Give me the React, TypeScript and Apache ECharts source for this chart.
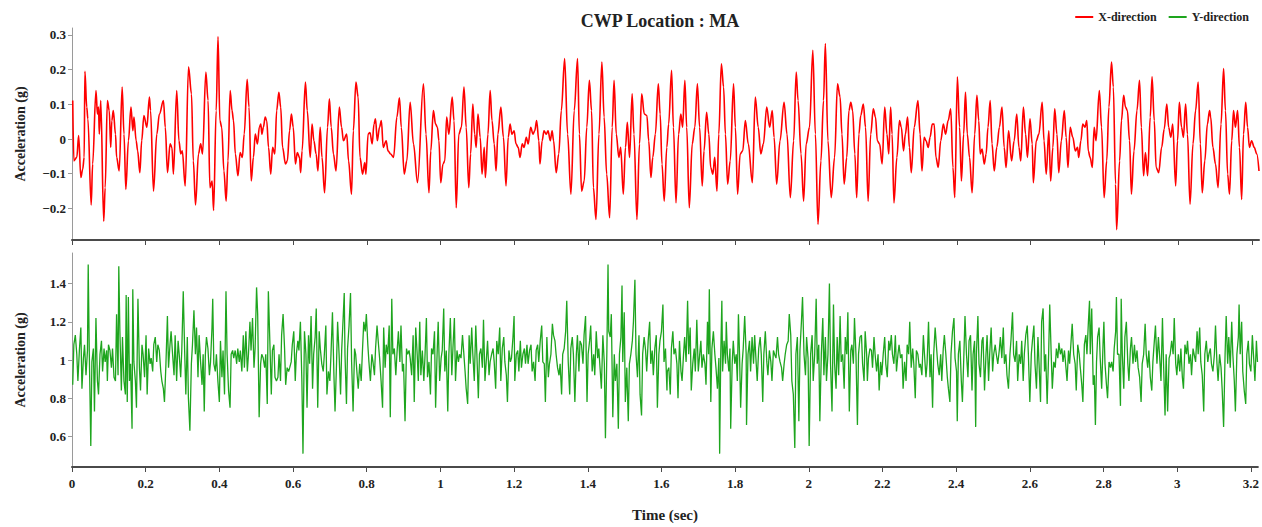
import { useEffect, useRef } from "react";
import * as echarts from "echarts";

const TITLE = "CWP Location : MA";
const SERIES_NAMES = ["X-direction", "Y-direction"];
const TIME_TICKS = [0, 0.2, 0.4, 0.6, 0.8, 1, 1.2, 1.4, 1.6, 1.8, 2, 2.2, 2.4, 2.6, 2.8, 3, 3.2];
const X_ACC_TICKS = [-0.2, -0.1, 0, 0.1, 0.2, 0.3];
const Y_ACC_TICKS = [0.6, 0.8, 1, 1.2, 1.4];

// [time (sec), acceleration (g)]
const X_DIRECTION: [number, number][] = [
  [0.002,0.111],[0.005,-0.063],[0.013,-0.053],[0.018,0.010],[0.024,-0.111],[0.029,-0.087],[0.033,-0.053],[0.035,0.195],[0.040,0.092],[0.043,0.058],[0.052,-0.190],[0.056,-0.072],[0.065,0.140],[0.069,0.072],[0.072,0.092],[0.074,0.014],[0.078,0.111],[0.086,-0.237],[0.090,-0.140],[0.096,0.111],[0.101,0.082],[0.105,-0.024],[0.108,0.053],[0.112,0.082],[0.118,0.014],[0.121,-0.053],[0.128,-0.092],[0.136,0.150],[0.141,0.014],[0.146,-0.145],[0.153,-0.005],[0.160,0.092],[0.165,0.024],[0.168,0.063],[0.174,-0.005],[0.178,-0.034],[0.184,-0.097],[0.189,-0.005],[0.195,0.068],[0.203,0.034],[0.210,0.121],[0.213,0.082],[0.221,-0.150],[0.230,0.014],[0.237,0.072],[0.248,0.111],[0.253,0.034],[0.259,-0.097],[0.266,-0.014],[0.271,-0.024],[0.275,-0.101],[0.284,0.140],[0.290,-0.005],[0.295,-0.043],[0.299,-0.034],[0.307,-0.135],[0.316,0.208],[0.324,0.130],[0.329,-0.063],[0.335,-0.190],[0.343,-0.043],[0.349,-0.014],[0.354,-0.043],[0.363,0.193],[0.369,0.111],[0.374,-0.140],[0.380,-0.121],[0.384,-0.206],[0.391,0.082],[0.396,0.295],[0.401,0.053],[0.406,0.034],[0.412,-0.092],[0.418,-0.179],[0.423,-0.063],[0.429,0.140],[0.434,0.082],[0.438,0.053],[0.443,-0.043],[0.450,-0.106],[0.456,-0.039],[0.462,-0.053],[0.467,0.014],[0.475,0.172],[0.480,0.092],[0.486,-0.121],[0.492,-0.053],[0.497,0.014],[0.503,-0.014],[0.508,0.034],[0.512,0.043],[0.515,0.014],[0.519,0.034],[0.524,0.063],[0.528,0.053],[0.533,-0.024],[0.539,-0.101],[0.544,-0.024],[0.550,-0.043],[0.555,0.082],[0.561,0.135],[0.566,0.092],[0.571,-0.024],[0.579,-0.072],[0.584,-0.063],[0.590,0.024],[0.595,0.072],[0.600,0.034],[0.606,-0.072],[0.611,-0.039],[0.617,-0.053],[0.620,-0.097],[0.624,-0.034],[0.633,0.164],[0.638,0.082],[0.646,-0.053],[0.651,0.043],[0.656,-0.005],[0.662,-0.043],[0.667,-0.092],[0.673,0.034],[0.678,-0.053],[0.685,-0.155],[0.693,0.034],[0.698,0.116],[0.703,0.034],[0.709,-0.043],[0.716,-0.092],[0.725,0.092],[0.731,0.034],[0.736,-0.005],[0.745,0.014],[0.750,-0.063],[0.758,-0.159],[0.763,0.024],[0.770,0.164],[0.776,0.121],[0.781,-0.053],[0.788,-0.101],[0.794,-0.068],[0.797,-0.101],[0.803,0.014],[0.808,0.019],[0.814,-0.014],[0.819,0.043],[0.823,0.058],[0.828,-0.005],[0.834,0.034],[0.839,0.053],[0.844,-0.024],[0.852,-0.005],[0.857,-0.034],[0.864,-0.043],[0.872,-0.053],[0.881,0.063],[0.888,0.119],[0.893,0.034],[0.901,-0.101],[0.908,-0.063],[0.917,0.106],[0.926,-0.014],[0.937,-0.126],
  [0.953,0.159],[0.960,0.014],[0.968,-0.155],[0.973,-0.034],[0.980,0.082],[0.986,0.043],[0.991,0.034],[0.995,-0.005],[1.000,-0.126],[1.006,-0.072],[1.011,-0.063],[1.016,0.063],[1.022,0.014],[1.031,0.121],[1.036,0.053],[1.042,-0.198],[1.049,0.014],[1.056,0.034],[1.063,0.150],[1.069,0.034],[1.076,-0.140],[1.081,-0.043],[1.087,0.101],[1.092,0.014],[1.096,-0.024],[1.101,0.072],[1.107,0.005],[1.112,-0.101],[1.118,-0.024],[1.121,-0.111],[1.128,0.014],[1.134,0.140],[1.139,0.053],[1.145,-0.014],[1.150,-0.092],[1.155,0.014],[1.163,0.092],[1.170,0.005],[1.177,-0.135],[1.183,0.005],[1.188,0.043],[1.193,0.014],[1.199,0.024],[1.204,-0.014],[1.210,-0.024],[1.215,-0.053],[1.221,-0.014],[1.226,-0.024],[1.232,0.005],[1.237,-0.014],[1.244,0.034],[1.250,0.014],[1.255,0.024],[1.260,0.053],[1.266,-0.005],[1.269,-0.072],[1.275,-0.005],[1.280,0.024],[1.286,0.014],[1.291,0.024],[1.297,-0.005],[1.302,0.024],[1.306,-0.005],[1.313,-0.097],[1.320,-0.043],[1.327,0.082],[1.336,0.232],[1.344,0.014],[1.353,-0.159],[1.362,0.082],[1.371,0.232],[1.376,0.014],[1.382,-0.150],[1.389,-0.121],[1.396,0.034],[1.403,0.169],[1.409,0.082],[1.414,-0.140],[1.421,-0.232],[1.429,0.014],[1.437,0.222],[1.443,0.063],[1.450,-0.101],[1.458,-0.227],[1.465,0.034],[1.470,0.169],[1.476,0.014],[1.483,-0.053],[1.488,-0.024],[1.495,-0.159],[1.501,-0.024],[1.506,0.048],[1.512,-0.053],[1.519,0.130],[1.524,0.014],[1.532,-0.232],[1.539,-0.014],[1.545,0.130],[1.552,0.072],[1.559,0.068],[1.564,-0.005],[1.570,-0.111],[1.575,-0.053],[1.582,0.014],[1.590,0.159],[1.595,0.072],[1.600,-0.072],[1.606,-0.179],[1.613,-0.024],[1.618,0.043],[1.626,0.198],[1.631,0.034],[1.638,-0.184],[1.645,0.014],[1.651,0.072],[1.656,0.034],[1.662,0.169],[1.667,0.034],[1.674,-0.198],[1.682,-0.014],[1.689,0.034],[1.696,0.159],[1.702,0.034],[1.709,-0.135],[1.714,-0.034],[1.721,0.077],[1.727,0.014],[1.732,-0.082],[1.738,-0.101],[1.743,-0.053],[1.749,-0.150],[1.754,0.014],[1.761,0.217],[1.767,0.150],[1.772,0.014],[1.778,-0.130],[1.785,-0.063],[1.794,0.159],[1.799,0.034],[1.805,-0.159],[1.812,-0.043],[1.819,-0.034],[1.826,0.053],[1.834,-0.014],[1.845,-0.126],[1.853,0.121],[1.861,0.034],[1.868,-0.043],[1.875,-0.014],[1.884,0.092],[1.892,0.034],[1.899,0.082],[1.904,0.005],[1.911,-0.130],[1.920,-0.005],[1.931,0.106],[1.939,0.014],[1.948,-0.169],[1.957,-0.005],[1.964,0.193],[1.969,0.111],[1.977,-0.043],[1.984,-0.179],[1.991,-0.014],[2.000,0.034],[2.009,0.256],[2.016,0.014],[2.023,-0.246],[2.031,-0.063],[2.038,0.111],[2.043,0.275],[2.050,-0.005],[2.059,-0.169],[2.068,-0.053],[2.076,0.159],
  [2.083,0.121],[2.088,0.014],[2.094,-0.130],[2.101,-0.053],[2.107,0.082],[2.112,0.106],[2.117,0.082],[2.123,-0.043],[2.128,-0.169],[2.134,0.014],[2.139,0.068],[2.146,0.101],[2.152,0.034],[2.159,-0.179],[2.166,0.014],[2.173,0.087],[2.179,0.063],[2.184,-0.005],[2.190,-0.014],[2.197,-0.072],[2.204,0.092],[2.210,0.014],[2.215,-0.043],[2.220,0.092],[2.224,0.014],[2.229,-0.184],[2.237,-0.053],[2.244,0.053],[2.249,0.034],[2.255,-0.034],[2.260,0.014],[2.266,0.063],[2.271,-0.024],[2.276,-0.097],[2.284,0.034],[2.294,0.111],[2.300,0.014],[2.305,-0.092],[2.311,0.005],[2.316,-0.005],[2.322,-0.024],[2.327,0.005],[2.333,0.043],[2.338,0.043],[2.343,-0.053],[2.349,-0.082],[2.356,-0.005],[2.363,0.043],[2.369,0.014],[2.376,0.053],[2.383,0.087],[2.389,-0.082],[2.394,-0.169],[2.401,0.179],[2.407,0.034],[2.412,-0.121],[2.418,0.014],[2.423,0.135],[2.428,0.014],[2.434,-0.053],[2.441,-0.155],[2.448,0.014],[2.454,0.126],[2.459,0.053],[2.463,-0.043],[2.468,-0.029],[2.474,-0.072],[2.479,-0.043],[2.484,0.034],[2.490,0.111],[2.495,-0.014],[2.501,-0.092],[2.508,-0.024],[2.515,0.034],[2.522,0.092],[2.528,-0.024],[2.533,-0.082],[2.540,0.024],[2.548,-0.063],[2.555,-0.005],[2.562,0.072],[2.568,-0.024],[2.573,-0.063],[2.580,0.092],[2.586,0.014],[2.591,-0.053],[2.598,0.058],[2.604,-0.014],[2.607,-0.126],[2.615,-0.005],[2.622,0.014],[2.631,0.106],[2.636,-0.005],[2.642,-0.101],[2.649,0.024],[2.654,-0.121],[2.660,-0.024],[2.665,0.087],[2.671,0.014],[2.676,-0.097],[2.683,-0.005],[2.691,0.082],[2.696,0.005],[2.701,-0.082],[2.707,0.034],[2.714,0.005],[2.721,-0.034],[2.727,-0.024],[2.730,-0.053],[2.736,-0.005],[2.741,0.043],[2.747,0.034],[2.752,0.053],[2.756,-0.034],[2.761,-0.053],[2.767,-0.082],[2.772,0.034],[2.777,-0.005],[2.786,0.140],[2.792,0.034],[2.799,-0.169],[2.806,-0.063],[2.812,0.092],[2.819,0.222],[2.824,0.150],[2.830,-0.130],[2.833,-0.261],[2.841,-0.063],[2.846,0.053],[2.852,0.126],[2.857,0.092],[2.862,0.082],[2.868,-0.005],[2.873,-0.159],[2.880,-0.034],[2.888,0.082],[2.895,0.169],[2.900,0.034],[2.906,-0.106],[2.911,-0.039],[2.917,-0.106],[2.924,0.063],[2.929,0.179],[2.935,0.053],[2.940,-0.082],[2.947,-0.097],[2.955,-0.024],[2.962,0.029],[2.969,0.101],[2.974,0.034],[2.980,0.005],[2.985,0.043],[2.993,-0.135],[2.998,-0.005],[3.003,0.106],[3.009,0.034],[3.014,0.005],[3.020,0.101],[3.025,0.014],[3.032,-0.188],[3.040,-0.014],[3.047,0.082],[3.054,0.164],[3.060,-0.014],[3.065,-0.155],[3.072,-0.063],[3.079,0.043],[3.085,0.082],[3.088,0.063],[3.094,-0.024],[3.101,-0.072],[3.108,-0.140],[3.116,0.043],[3.123,0.203],[3.128,0.082],[3.134,-0.101],[3.139,-0.159],[3.145,-0.005],[3.150,0.082],[3.155,0.034],[3.161,0.082],[3.166,-0.024],[3.172,-0.174],[3.177,0.014],[3.183,0.106],[3.188,0.034],[3.193,-0.024],[3.199,-0.005],[3.206,-0.024],[3.213,-0.043],[3.219,-0.092],
];

// [time (sec), acceleration (g)]
const Y_DIRECTION: [number, number][] = [
  [0.002,0.87],[0.005,1.08],[0.009,1.13],[0.013,1.03],[0.016,0.89],[0.020,1.05],[0.024,1.17],[0.027,0.85],[0.031,1.01],[0.034,1.08],[0.038,0.92],[0.042,1.05],[0.044,1.50],[0.047,1.03],[0.051,0.55],[0.054,0.99],[0.058,1.06],[0.061,0.73],[0.065,1.22],[0.069,0.89],[0.072,0.82],[0.076,1.03],[0.080,1.10],[0.083,0.94],[0.087,1.06],[0.090,0.99],[0.094,1.05],[0.096,0.89],[0.099,1.08],[0.103,1.05],[0.107,0.96],[0.110,1.06],[0.114,0.91],[0.118,0.89],[0.121,1.24],[0.125,0.92],[0.127,1.49],[0.130,1.15],[0.134,0.84],[0.137,1.12],[0.141,0.89],[0.145,0.82],[0.147,1.34],[0.150,0.78],[0.153,1.33],[0.156,0.89],[0.159,0.98],[0.163,0.64],[0.165,1.37],[0.168,0.99],[0.172,0.89],[0.175,0.75],[0.179,1.32],[0.183,0.96],[0.186,0.84],[0.190,1.08],[0.193,1.03],[0.197,0.91],[0.201,1.13],[0.204,0.82],[0.208,1.06],[0.212,0.98],[0.215,1.01],[0.219,0.94],[0.222,1.08],[0.226,1.12],[0.230,0.99],[0.233,1.08],[0.237,1.05],[0.241,0.94],[0.244,0.89],[0.248,0.85],[0.251,0.78],[0.255,0.98],[0.259,1.23],[0.262,0.96],[0.266,1.08],[0.269,1.15],[0.273,1.03],[0.277,0.92],[0.280,1.13],[0.284,0.89],[0.288,1.10],[0.291,1.03],[0.295,0.91],[0.298,1.05],[0.302,1.36],[0.306,1.03],[0.309,0.82],[0.313,1.12],[0.316,0.80],[0.320,0.63],[0.324,0.98],[0.327,1.08],[0.331,1.26],[0.335,1.03],[0.338,1.17],[0.342,0.91],[0.345,1.13],[0.349,0.99],[0.353,0.87],[0.356,1.03],[0.359,0.73],[0.362,1.03],[0.365,1.12],[0.369,1.06],[0.373,0.92],[0.376,0.99],[0.380,1.17],[0.382,1.32],[0.385,0.98],[0.389,0.94],[0.392,1.03],[0.396,0.89],[0.400,0.78],[0.403,1.10],[0.407,0.91],[0.410,1.05],[0.414,0.82],[0.418,1.36],[0.421,1.03],[0.425,0.84],[0.429,0.75],[0.432,1.03],[0.436,1.05],[0.439,1.01],[0.443,1.05],[0.447,0.98],[0.450,1.06],[0.454,0.99],[0.457,1.05],[0.461,0.94],[0.465,1.13],[0.468,0.96],[0.472,1.15],[0.476,0.94],[0.479,1.03],[0.483,1.20],[0.486,1.05],[0.490,1.22],[0.494,0.96],[0.497,1.06],[0.501,1.38],[0.504,1.24],[0.508,0.70],[0.512,0.98],[0.515,1.03],[0.519,1.01],[0.523,0.96],[0.526,1.03],[0.530,0.77],
  [0.533,1.36],[0.537,1.10],[0.541,0.82],[0.544,1.05],[0.548,1.08],[0.551,0.91],[0.555,0.89],[0.559,0.91],[0.562,1.03],[0.566,0.89],[0.569,1.13],[0.573,1.24],[0.577,1.06],[0.580,0.87],[0.584,0.96],[0.588,0.94],[0.591,0.96],[0.595,0.99],[0.598,1.08],[0.602,1.15],[0.606,0.89],[0.609,1.03],[0.613,1.10],[0.616,1.05],[0.620,1.20],[0.624,0.89],[0.627,0.51],[0.631,1.15],[0.635,1.03],[0.638,0.75],[0.642,1.13],[0.645,0.98],[0.649,1.23],[0.653,0.85],[0.656,1.03],[0.660,1.12],[0.663,1.27],[0.667,0.75],[0.671,1.15],[0.674,1.06],[0.678,0.98],[0.682,0.94],[0.685,1.03],[0.689,1.18],[0.692,0.82],[0.696,0.94],[0.700,0.89],[0.703,1.03],[0.707,1.25],[0.711,0.92],[0.714,0.73],[0.718,0.98],[0.721,1.20],[0.725,1.03],[0.729,0.82],[0.732,1.05],[0.736,1.22],[0.739,1.35],[0.741,1.03],[0.745,0.77],[0.748,1.06],[0.752,1.18],[0.756,1.35],[0.759,0.99],[0.763,0.73],[0.767,1.06],[0.770,1.03],[0.774,0.92],[0.777,0.85],[0.781,0.98],[0.785,0.89],[0.788,1.03],[0.792,1.20],[0.796,1.15],[0.799,1.24],[0.803,1.08],[0.806,0.99],[0.810,0.89],[0.814,1.03],[0.817,0.99],[0.821,0.92],[0.824,1.06],[0.828,1.18],[0.832,1.08],[0.835,1.01],[0.839,0.89],[0.843,0.75],[0.846,1.17],[0.850,0.96],[0.853,1.08],[0.857,1.03],[0.861,1.18],[0.864,0.70],[0.868,1.32],[0.871,1.03],[0.875,1.06],[0.879,0.92],[0.882,1.03],[0.886,1.15],[0.890,0.99],[0.893,1.18],[0.897,0.94],[0.900,0.98],[0.904,0.68],[0.908,1.06],[0.911,1.03],[0.915,1.05],[0.918,1.01],[0.922,0.92],[0.926,1.13],[0.929,0.78],[0.933,1.17],[0.937,1.03],[0.940,0.89],[0.944,1.20],[0.947,0.92],[0.951,1.05],[0.955,0.89],[0.958,1.01],[0.962,1.22],[0.965,0.91],[0.969,0.99],[0.973,0.82],[0.976,1.06],[0.980,1.03],[0.984,1.15],[0.987,0.75],[0.991,1.03],[0.994,1.20],[0.998,0.89],[1.002,1.01],[1.005,1.05],[1.009,1.27],[1.012,0.94],[1.016,1.05],[1.020,0.73],[1.023,1.03],[1.027,1.22],[1.031,0.92],[1.034,1.06],[1.038,1.22],[1.041,0.89],[1.045,1.05],[1.049,0.99],[1.052,1.03],[1.056,1.01],[1.060,1.13],[1.063,1.05],[1.067,0.94],[1.070,0.85],
  [1.074,0.77],[1.078,1.13],[1.081,0.98],[1.085,1.17],[1.088,1.03],[1.092,0.89],[1.096,1.18],[1.099,1.03],[1.103,0.80],[1.106,1.03],[1.110,1.06],[1.114,0.96],[1.117,1.21],[1.121,0.89],[1.125,1.01],[1.128,1.10],[1.132,0.92],[1.135,0.99],[1.139,1.03],[1.143,1.06],[1.146,0.99],[1.150,0.85],[1.153,1.10],[1.157,1.03],[1.161,1.17],[1.164,0.89],[1.168,1.06],[1.172,1.12],[1.175,0.99],[1.179,0.92],[1.182,0.78],[1.186,1.05],[1.190,0.99],[1.193,1.01],[1.197,1.12],[1.200,1.23],[1.202,0.89],[1.206,1.03],[1.210,1.05],[1.213,0.94],[1.217,1.10],[1.220,0.96],[1.224,1.03],[1.228,1.06],[1.231,0.98],[1.235,1.08],[1.238,0.98],[1.242,1.05],[1.246,1.08],[1.249,0.94],[1.253,0.99],[1.257,0.89],[1.260,1.05],[1.264,1.08],[1.267,0.99],[1.271,1.10],[1.275,1.18],[1.278,0.99],[1.282,0.98],[1.285,0.78],[1.289,1.12],[1.293,0.91],[1.296,0.98],[1.300,1.03],[1.304,1.19],[1.307,1.13],[1.311,1.10],[1.314,1.03],[1.318,0.96],[1.322,0.92],[1.325,0.98],[1.329,0.82],[1.332,1.03],[1.336,1.06],[1.340,1.15],[1.343,1.31],[1.347,0.99],[1.351,0.82],[1.354,1.06],[1.358,1.12],[1.361,1.03],[1.365,0.78],[1.369,1.03],[1.372,1.13],[1.376,0.94],[1.379,1.10],[1.383,1.08],[1.387,0.98],[1.390,1.13],[1.394,1.23],[1.398,0.78],[1.401,1.03],[1.405,1.10],[1.408,1.18],[1.412,0.94],[1.416,1.03],[1.419,0.92],[1.423,1.15],[1.427,1.01],[1.430,1.06],[1.434,0.94],[1.437,0.85],[1.441,1.13],[1.445,0.98],[1.448,0.59],[1.452,1.06],[1.455,1.50],[1.457,1.15],[1.461,1.12],[1.464,1.24],[1.468,0.70],[1.472,1.03],[1.475,0.89],[1.479,0.98],[1.483,0.64],[1.486,1.03],[1.490,1.12],[1.493,1.39],[1.495,0.99],[1.499,1.25],[1.502,0.78],[1.506,0.96],[1.510,0.68],[1.513,0.98],[1.517,1.03],[1.521,1.10],[1.524,1.20],[1.528,1.42],[1.531,1.03],[1.535,0.91],[1.539,1.13],[1.542,0.82],[1.546,0.71],[1.549,1.03],[1.553,1.12],[1.557,1.05],[1.560,0.94],[1.564,1.10],[1.568,1.20],[1.571,0.98],[1.575,1.05],[1.578,0.92],[1.582,1.06],[1.586,1.13],[1.589,0.75],[1.593,1.03],[1.596,1.10],[1.600,1.15],[1.604,1.29],[1.607,0.99],[1.611,1.06],[1.615,0.84],
  [1.616,0.94],[1.620,0.96],[1.624,0.82],[1.627,1.06],[1.631,1.15],[1.634,1.03],[1.638,1.06],[1.642,0.98],[1.645,0.80],[1.649,1.10],[1.653,0.94],[1.656,0.89],[1.660,1.03],[1.663,1.12],[1.667,0.99],[1.671,1.31],[1.674,1.03],[1.678,1.17],[1.681,0.84],[1.685,0.98],[1.689,1.06],[1.692,0.94],[1.696,1.21],[1.700,0.94],[1.703,1.01],[1.707,1.10],[1.710,0.96],[1.714,1.03],[1.718,0.98],[1.721,0.87],[1.725,1.20],[1.728,1.03],[1.730,1.37],[1.734,0.78],[1.737,1.06],[1.741,1.15],[1.745,1.03],[1.748,0.96],[1.752,0.85],[1.756,1.01],[1.758,0.51],[1.761,1.03],[1.764,1.31],[1.766,0.94],[1.770,1.10],[1.774,0.98],[1.776,1.20],[1.779,1.03],[1.783,0.94],[1.786,1.06],[1.788,0.64],[1.792,0.98],[1.795,1.10],[1.799,0.98],[1.803,1.03],[1.806,0.89],[1.809,1.24],[1.812,1.03],[1.815,0.75],[1.819,0.98],[1.822,1.06],[1.826,1.23],[1.830,1.03],[1.831,0.66],[1.835,1.03],[1.839,1.10],[1.842,0.94],[1.846,1.12],[1.850,0.98],[1.853,1.13],[1.857,0.99],[1.860,0.89],[1.864,1.06],[1.868,1.12],[1.871,1.03],[1.875,0.78],[1.878,1.03],[1.882,1.15],[1.886,0.99],[1.889,0.92],[1.893,1.05],[1.897,0.99],[1.900,0.89],[1.904,1.05],[1.907,1.03],[1.911,1.01],[1.915,1.12],[1.918,1.03],[1.922,0.99],[1.926,0.96],[1.929,0.89],[1.933,0.98],[1.936,1.03],[1.940,1.08],[1.944,1.10],[1.947,1.24],[1.951,1.13],[1.954,0.89],[1.958,0.82],[1.962,0.54],[1.965,1.03],[1.969,1.12],[1.973,0.68],[1.976,1.05],[1.980,1.20],[1.983,1.33],[1.987,1.03],[1.991,0.92],[1.994,1.12],[1.998,1.01],[2.001,0.55],[2.005,1.03],[2.009,1.13],[2.012,0.89],[2.016,1.03],[2.020,1.32],[2.023,0.98],[2.027,1.08],[2.030,0.68],[2.034,1.03],[2.038,1.22],[2.041,0.92],[2.045,1.12],[2.048,0.89],[2.052,1.03],[2.056,1.40],[2.059,0.98],[2.063,0.73],[2.067,1.29],[2.070,0.98],[2.074,0.85],[2.077,1.12],[2.081,0.92],[2.085,1.23],[2.088,0.99],[2.092,1.03],[2.096,0.85],[2.099,1.12],[2.103,1.03],[2.106,1.25],[2.110,0.73],[2.114,1.05],[2.117,1.08],[2.121,0.98],[2.124,1.22],[2.128,1.03],[2.132,0.66],[2.135,1.03],[2.139,1.12],[2.143,1.13],[2.146,0.98],[2.150,0.89],[2.153,1.15],[2.157,1.03],
  [2.159,0.89],[2.162,1.01],[2.166,1.06],[2.170,1.05],[2.173,0.96],[2.177,1.12],[2.180,1.03],[2.184,0.94],[2.188,1.03],[2.191,0.84],[2.195,0.99],[2.198,0.92],[2.202,1.03],[2.206,1.12],[2.209,0.98],[2.213,0.91],[2.217,1.10],[2.220,1.05],[2.224,1.13],[2.227,1.03],[2.231,0.98],[2.235,1.13],[2.238,0.94],[2.242,1.03],[2.245,1.08],[2.249,1.01],[2.253,1.03],[2.256,0.85],[2.260,0.99],[2.264,0.89],[2.267,1.08],[2.271,1.03],[2.274,1.20],[2.278,0.96],[2.282,1.06],[2.285,0.98],[2.289,0.80],[2.292,1.05],[2.296,1.03],[2.300,0.96],[2.303,0.98],[2.307,0.92],[2.311,1.13],[2.314,1.03],[2.318,0.91],[2.321,0.98],[2.325,1.20],[2.329,0.91],[2.332,1.03],[2.336,0.75],[2.339,1.03],[2.343,1.17],[2.347,1.06],[2.350,0.98],[2.354,0.92],[2.358,1.03],[2.361,0.89],[2.365,1.06],[2.368,1.13],[2.372,1.03],[2.376,0.91],[2.379,0.85],[2.383,0.78],[2.386,1.03],[2.390,1.15],[2.394,1.22],[2.397,1.01],[2.401,0.94],[2.403,0.68],[2.406,1.03],[2.410,1.10],[2.414,0.89],[2.417,0.78],[2.421,1.03],[2.424,1.23],[2.428,1.03],[2.432,0.91],[2.435,1.10],[2.439,1.13],[2.443,0.84],[2.446,1.03],[2.450,1.10],[2.453,0.65],[2.455,1.03],[2.459,1.23],[2.462,0.98],[2.466,0.91],[2.470,1.10],[2.473,1.12],[2.477,0.84],[2.481,1.03],[2.484,1.13],[2.488,0.89],[2.491,1.03],[2.495,1.17],[2.499,0.94],[2.502,1.03],[2.506,1.08],[2.509,1.03],[2.513,0.98],[2.517,1.05],[2.520,1.12],[2.524,1.01],[2.528,1.17],[2.531,0.98],[2.535,1.03],[2.538,0.92],[2.542,0.85],[2.546,1.03],[2.549,1.11],[2.553,1.25],[2.556,1.03],[2.560,0.99],[2.564,1.10],[2.567,0.89],[2.571,1.03],[2.575,0.98],[2.578,1.10],[2.582,0.89],[2.585,1.03],[2.589,1.13],[2.593,1.18],[2.596,1.03],[2.600,0.78],[2.604,1.03],[2.607,1.10],[2.611,1.18],[2.614,0.98],[2.618,0.85],[2.622,1.12],[2.625,0.98],[2.629,0.78],[2.632,1.20],[2.636,1.27],[2.640,0.94],[2.643,1.03],[2.647,0.77],[2.651,1.03],[2.654,1.29],[2.658,1.03],[2.661,0.85],[2.665,0.99],[2.669,0.96],[2.672,1.06],[2.676,1.01],[2.679,1.09],[2.683,1.03],[2.687,1.06],[2.690,0.99],[2.694,1.05],[2.698,0.96],
  [2.701,0.89],[2.705,1.05],[2.708,0.98],[2.712,1.10],[2.715,1.19],[2.719,1.03],[2.723,0.98],[2.726,0.84],[2.730,1.08],[2.734,1.03],[2.737,0.96],[2.741,0.87],[2.744,0.78],[2.748,1.08],[2.752,1.13],[2.755,1.03],[2.759,1.20],[2.762,1.31],[2.764,1.03],[2.768,1.27],[2.772,0.87],[2.775,0.92],[2.778,0.66],[2.781,0.99],[2.784,1.12],[2.788,1.17],[2.791,1.01],[2.795,0.85],[2.799,1.10],[2.801,1.20],[2.804,0.98],[2.808,0.87],[2.811,0.80],[2.815,0.99],[2.819,0.96],[2.822,0.99],[2.826,0.94],[2.829,1.06],[2.833,1.15],[2.835,1.33],[2.838,1.03],[2.842,1.03],[2.846,0.76],[2.848,1.32],[2.851,1.03],[2.855,0.85],[2.858,1.12],[2.862,1.20],[2.866,0.98],[2.869,0.89],[2.873,1.06],[2.876,1.12],[2.880,0.98],[2.884,1.08],[2.887,0.99],[2.891,1.05],[2.894,0.96],[2.898,0.91],[2.902,0.78],[2.905,0.98],[2.909,1.03],[2.913,1.19],[2.916,1.03],[2.920,0.96],[2.923,1.05],[2.927,0.91],[2.931,0.84],[2.934,0.99],[2.938,1.10],[2.941,1.18],[2.945,0.98],[2.949,1.12],[2.952,1.03],[2.956,0.89],[2.960,1.22],[2.963,0.98],[2.967,0.71],[2.970,1.03],[2.974,0.73],[2.978,1.01],[2.981,1.03],[2.985,1.10],[2.989,1.03],[2.992,1.22],[2.996,0.98],[2.999,0.92],[3.003,1.03],[3.007,0.94],[3.010,1.06],[3.014,0.91],[3.017,0.85],[3.021,1.08],[3.025,1.03],[3.028,1.10],[3.032,0.98],[3.036,1.03],[3.039,0.92],[3.043,1.06],[3.046,1.03],[3.050,0.99],[3.054,1.15],[3.057,1.03],[3.061,1.17],[3.064,0.99],[3.068,0.92],[3.072,0.73],[3.075,1.03],[3.079,1.10],[3.083,0.99],[3.086,1.03],[3.090,1.06],[3.093,0.98],[3.097,0.94],[3.101,1.03],[3.104,1.18],[3.108,0.98],[3.111,0.89],[3.115,1.03],[3.119,0.96],[3.122,0.85],[3.126,0.65],[3.130,1.03],[3.133,1.23],[3.137,0.98],[3.140,1.12],[3.144,0.96],[3.148,1.20],[3.151,1.03],[3.155,0.89],[3.158,0.73],[3.162,1.03],[3.166,1.12],[3.168,1.29],[3.171,1.03],[3.175,1.20],[3.178,0.94],[3.182,0.84],[3.186,0.77],[3.189,1.03],[3.193,1.10],[3.196,0.98],[3.200,0.94],[3.204,1.13],[3.207,1.03],[3.211,0.89],[3.215,1.10],[3.218,0.99],
];

const FONT = "'Liberation Serif', 'Times New Roman', serif";
const RED = "#ff0000";
const GREEN = "#1ea51e";

const fmtNum = (v: number) => (v < 0 ? "\u2212" + String(Math.abs(v)) : String(v));

export default function App() {
  const ref = useRef<HTMLDivElement>(null);

  useEffect(() => {
    if (!ref.current) return;
    const chart = echarts.init(ref.current, undefined, { renderer: "svg" });

    const xAxisBase = (gridIndex: number, showLabels: boolean) => ({
      type: "value",
      gridIndex,
      min: 0,
      max: 3.219,
      splitLine: { show: false },
      axisLine: { show: true, onZero: false, lineStyle: { color: "#4a4a4a", width: 2 } },
      axisTick: { show: true, length: 5, customValues: TIME_TICKS, lineStyle: { color: "#4a4a4a", width: 1 } },
      axisLabel: {
        show: showLabels,
        customValues: TIME_TICKS,
        margin: 10,
        fontFamily: FONT,
        fontWeight: "bold",
        fontSize: 13,
        color: "#222",
        formatter: (v: number) => fmtNum(v),
      },
    });

    const yAxisBase = (gridIndex: number, min: number, max: number, ticks: number[]) => ({
      type: "value",
      gridIndex,
      min,
      max,
      splitLine: { show: false },
      axisLine: { show: true, onZero: false, lineStyle: { color: "#9a9a9a", width: 1 } },
      axisTick: { show: true, length: 4, customValues: ticks, lineStyle: { color: "#9a9a9a", width: 1 } },
      axisLabel: {
        customValues: ticks,
        margin: 6,
        fontFamily: FONT,
        fontWeight: "bold",
        fontSize: 13,
        color: "#222",
        formatter: (v: number) => fmtNum(v),
      },
    });

    chart.setOption({
      animation: false,
      backgroundColor: "#ffffff",
      legend: {
        data: SERIES_NAMES,
        right: 8,
        top: 6,
        icon: "rect",
        itemWidth: 18,
        itemHeight: 2,
        itemGap: 12,
        textStyle: { fontFamily: FONT, fontWeight: "bold", fontSize: 12, color: "#222" },
      },
      grid: [
        { left: 72, right: 3, top: 28, height: 212 },
        { left: 72, right: 3, top: 253, height: 214 },
      ],
      xAxis: [xAxisBase(0, false), xAxisBase(1, true)],
      yAxis: [yAxisBase(0, -0.291, 0.32, X_ACC_TICKS), yAxisBase(1, 0.44, 1.56, Y_ACC_TICKS)],
      series: [
        {
          name: SERIES_NAMES[0],
          type: "line",
          xAxisIndex: 0,
          yAxisIndex: 0,
          data: X_DIRECTION,
          symbol: "none",
          showSymbol: false,
          smooth: 0.35,
          smoothMonotone: "x",
          lineStyle: { color: RED, width: 1.6 },
          itemStyle: { color: RED },
        },
        {
          name: SERIES_NAMES[1],
          type: "line",
          xAxisIndex: 1,
          yAxisIndex: 1,
          data: Y_DIRECTION,
          symbol: "none",
          showSymbol: false,
          lineStyle: { color: GREEN, width: 1.3 },
          itemStyle: { color: GREEN },
        },
      ],
      graphic: [
        {
          type: "text",
          x: 660,
          y: 21,
          style: {
            text: TITLE,
            fontFamily: FONT,
            fontWeight: "bold",
            fontSize: 18,
            fill: "#222",
            textAlign: "center",
            textVerticalAlign: "middle",
          },
        },
        {
          type: "text",
          x: 20,
          y: 134,
          rotation: Math.PI / 2,
          style: {
            text: "Acceleration (g)",
            fontFamily: FONT,
            fontWeight: "bold",
            fontSize: 14,
            fill: "#222",
            textAlign: "center",
            textVerticalAlign: "middle",
          },
        },
        {
          type: "text",
          x: 20,
          y: 360,
          rotation: Math.PI / 2,
          style: {
            text: "Acceleration (g)",
            fontFamily: FONT,
            fontWeight: "bold",
            fontSize: 14,
            fill: "#222",
            textAlign: "center",
            textVerticalAlign: "middle",
          },
        },
        {
          type: "text",
          x: 665,
          y: 515,
          style: {
            text: "Time (sec)",
            fontFamily: FONT,
            fontWeight: "bold",
            fontSize: 15,
            fill: "#222",
            textAlign: "center",
            textVerticalAlign: "middle",
          },
        },
      ],
    });

    return () => chart.dispose();
  }, []);

  return <div ref={ref} style={{ position: "absolute", left: 0, top: 0, width: 1262, height: 527 }} />;
}
